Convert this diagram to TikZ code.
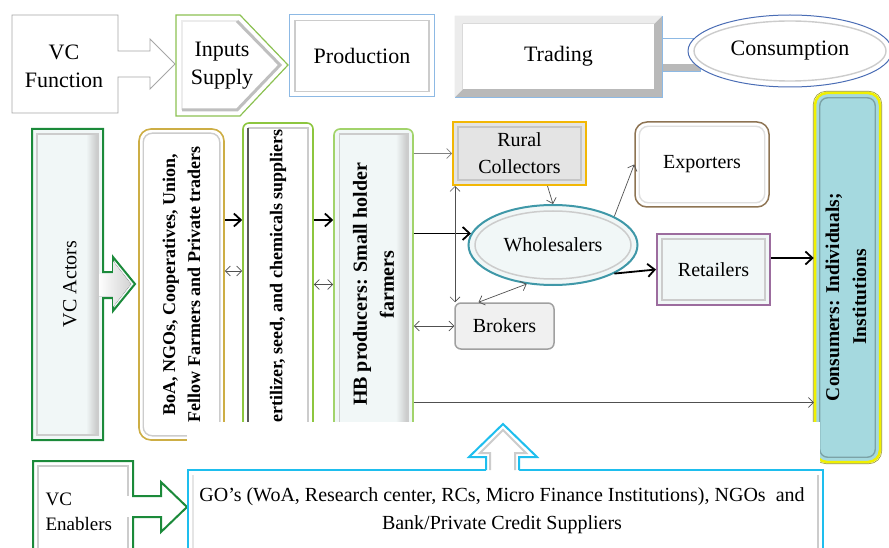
\documentclass[tikz,border=0pt]{standalone}
\usepackage{fontspec}
\setmainfont{Liberation Serif}
\usetikzlibrary{arrows.meta, shapes, shapes.geometric, calc, positioning}

\definecolor{funcGray}{HTML}{A6A6A6}
\definecolor{inputGreen}{HTML}{8CC152}
\definecolor{prodBlue}{HTML}{8DB9E4}
\definecolor{consBlue}{HTML}{4A6DB5}
\definecolor{actorGreen}{HTML}{1B8A3A}
\definecolor{boaGold}{HTML}{CDAE45}
\definecolor{fertGreen}{HTML}{8DC63F}
\definecolor{hbGreen}{HTML}{A2D36B}
\definecolor{paleFill}{HTML}{F1F7F7}
\definecolor{ruralGold}{HTML}{F2B705}
\definecolor{ruralFill}{HTML}{E4E4E4}
\definecolor{exportBrown}{HTML}{8E7453}
\definecolor{wholeTeal}{HTML}{3F98A8}
\definecolor{retailPurple}{HTML}{9C6C9E}
\definecolor{brokerGray}{HTML}{A0A0A0}
\definecolor{brokerFill}{HTML}{F0F0F0}
\definecolor{consumerFill}{HTML}{A5D9DF}
\definecolor{consumerYellow}{HTML}{F0F000}
\definecolor{consumerOlive}{HTML}{9A9A2A}
\definecolor{enablerCyan}{HTML}{1EBEEE}
\definecolor{lineGray}{HTML}{505050}

\tikzstyle{funcText} = [align=center, font=\fontsize{22}{28}\selectfont]
\tikzstyle{nodeText} = [align=center, font=\fontsize{20}{27}\selectfont]
\tikzstyle{vText} = [rotate=90, align=center, font=\bfseries\fontsize{18}{25}\selectfont]
\tikzstyle{colBox} = [rectangle, line width=1.6pt]
\tikzstyle{bevel} = [draw=gray!40, line width=1.4pt]
\tikzstyle{thinarrow} = [->, >={Straight Barb[length=5pt,width=10pt]}, draw=lineGray, line width=0.7pt]
\tikzstyle{thinboth} = [thinarrow, <->]
\tikzstyle{thickarrow} = [->, >={Straight Barb[length=7pt,width=13pt]}, draw=black, line width=1.8pt]

\begin{document}
\begin{tikzpicture}[x=1pt, y=-1pt, line join=miter]
\useasboundingbox (0,0) rectangle (889,548);

% --- value chain functions ---
\draw[funcGray, line width=0.9pt, fill=white] (12,15) -- (118,15) -- (118,51) -- (150,51) -- (150,39) -- (175,64) -- (150,89) -- (150,77) -- (118,77) -- (118,113) -- (12,113) -- cycle;
\node (vcFunction) [funcText] at (64,66) {VC\\Function};

\draw[inputGreen, line width=1.2pt, fill=white] (176,15) -- (240,15) -- (288,65) -- (240,116) -- (176,116) -- cycle;
\draw[bevel, draw=gray!15, line width=2.5pt] (182,110) -- (182,21) -- (237,21);
\draw[bevel, draw=gray!50, line width=3pt] (237,21) -- (280,65) -- (237,110) -- (182,110);
\node (inputsSupply) [funcText] at (222,66) {Inputs\\Supply};

\node (production) [funcText, draw=prodBlue, line width=1pt, fill=white, minimum width=145pt, minimum height=82pt] at (362,56) {Production};
\draw[bevel] ($(production.north west)+(6,6)$) rectangle ($(production.south east)+(-6,-6)$);

% trading box with its tab
\draw[prodBlue, line width=0.8pt, fill=white] (660,38) rectangle (700,71);
\fill[gray!55] (660,64) rectangle (700,71);
\node (trading) [draw=prodBlue, line width=0.8pt, fill=gray!55, minimum width=207pt, minimum height=81pt] at (558.5,56.5) {};
\fill[gray!15] (trading.north west) -- (trading.north east) -- ++(-8,8) -| ($(trading.south west)+(8,-8)$) -- (trading.south west) -- cycle;
\fill[white] ($(trading.north west)+(8,8)$) rectangle ($(trading.south east)+(-8,-8)$);
\node (tradingText) [funcText] at (trading) {Trading};

\node (consumption) [ellipse, draw=consBlue, line width=1pt, fill=white, minimum width=204pt, minimum height=72pt, funcText] at (790,51) {Consumption};
\draw[bevel] (consumption.center) ellipse [x radius=96, y radius=30];

% --- value chain actors ---
\draw[actorGreen, line width=2pt, fill=paleFill] (32,129) -- (103,129) -- (103,272) -- (113,272) -- (113,257) -- (135,284) -- (113,311) -- (113,298) -- (103,298) -- (103,440) -- (32,440) -- cycle;
\fill[left color=paleFill, right color=gray!45] (86,134) rectangle (98,435);
\fill[left color=white, right color=gray!35] (98,274) -- (113,274) -- (113,261) -- (131,284) -- (113,307) -- (113,296) -- (98,296) -- cycle;
\draw[bevel] (37,134) rectangle (98,435);
\node (vcActors) [rotate=90, font=\fontsize{20}{24}\selectfont] at (70,284) {VC Actors};

\node (boaGroup) [colBox, draw=boaGold, rounded corners=12pt, fill=white, minimum width=85pt, minimum height=311pt] at (181.5,284.5) {};
\draw[bevel, rounded corners=9pt] ($(boaGroup.north west)+(5,5)$) rectangle ($(boaGroup.south east)+(-5,-5)$);
\node (boaText) [vText] at (boaGroup) {BoA, NGOs, Cooperatives, Union,\\Fellow Farmers and Private traders};

\node (fertSuppliers) [colBox, draw=fertGreen, rounded corners=6pt, fill=white, minimum width=70pt, minimum height=317pt] at (278,281.5) {};
\draw[bevel] ($(fertSuppliers.north west)+(6,6)$) rectangle ($(fertSuppliers.south east)+(-6,-6)$);
\draw[gray!70!black, line width=1.5pt] ($(fertSuppliers.north west)+(6,6)$) -- ($(fertSuppliers.south west)+(6,-6)$);
\node (fertText) [vText] at (fertSuppliers) {Fertilizer, seed, and chemicals suppliers};

\node (hbFarmers) [colBox, draw=hbGreen, rounded corners=6pt, fill=paleFill, minimum width=79pt, minimum height=311pt] at (373.5,284.5) {};
\fill[left color=paleFill, right color=gray!45] ($(hbFarmers.north east)+(-18,6)$) rectangle ($(hbFarmers.south east)+(-6,-6)$);
\draw[bevel] ($(hbFarmers.north west)+(6,6)$) rectangle ($(hbFarmers.south east)+(-6,-6)$);
\node (hbText) [vText, font=\bfseries\fontsize{20}{27}\selectfont] at (hbFarmers) {HB producers: Small holder\\farmers};

\node (consumers) [rectangle, rounded corners=12pt, draw=consumerYellow, line width=2.5pt, fill=consumerFill, minimum width=65pt, minimum height=369pt] at (847.5,277.5) {};
\draw[consumerOlive, line width=0.6pt, rounded corners=13pt] ($(consumers.north west)+(-0.5,-0.5)$) rectangle ($(consumers.south east)+(0.5,0.5)$);
\draw[consumerFill!75!black, line width=1.4pt, rounded corners=8pt] ($(consumers.north west)+(6,6)$) rectangle ($(consumers.south east)+(-6,-6)$);
\node (consumersText) [vText, font=\bfseries\fontsize{19.5}{27}\selectfont] at (846,297) {Consumers: Individuals;\\Institutions};

% traders
\node (ruralCollectors) [nodeText, draw=ruralGold, line width=2pt, fill=ruralFill, minimum width=133pt, minimum height=63pt] at (519.5,153.5) {Rural\\Collectors};
\draw[gray!45, line width=1.2pt] ($(ruralCollectors.north west)+(6,6)$) rectangle ($(ruralCollectors.south east)+(-6,-6)$);

\node (exporters) [nodeText, draw=exportBrown, line width=1.5pt, rounded corners=12pt, fill=white, minimum width=134pt, minimum height=85pt] at (702,164.5) {Exporters};
\draw[gray!25, line width=1.4pt, rounded corners=9pt] ($(exporters.north west)+(5,5)$) rectangle ($(exporters.south east)+(-5,-5)$);

\node (wholesalers) [nodeText, ellipse, draw=wholeTeal, line width=2pt, fill=paleFill, minimum width=169pt, minimum height=80pt] at (553,245) {Wholesalers};
\draw[gray!40, line width=1.5pt] (wholesalers.center) ellipse [x radius=78, y radius=34];

\node (retailers) [nodeText, draw=retailPurple, line width=2pt, fill=paleFill, minimum width=113pt, minimum height=71pt] at (713.5,269.5) {Retailers};
\draw[bevel] ($(retailers.north west)+(6,6)$) rectangle ($(retailers.south east)+(-6,-6)$);

\node (brokers) [nodeText, draw=brokerGray, line width=1.5pt, rounded corners=6pt, fill=brokerFill, minimum width=99pt, minimum height=46pt] at (504.5,326) {Brokers};

% --- flows ---
\draw [thickarrow] ([yshift=64.5pt]boaGroup.east) -- ([yshift=61.5pt]fertSuppliers.west);
\draw [thinboth] ([yshift=13.5pt]boaGroup.east) -- ([yshift=10.5pt]fertSuppliers.west);
\draw [thickarrow] ([yshift=61.5pt]fertSuppliers.east) -- ([yshift=64.5pt]hbFarmers.west);
\draw [thinboth] (fertSuppliers.east |- hbFarmers.west) -- (hbFarmers.west);

\draw [thinarrow, draw=gray] (hbFarmers.east |- ruralCollectors.west) -- (ruralCollectors.west);
\draw [thickarrow] (hbFarmers.east |- wholesalers.172) -- (wholesalers.172);
\draw [thinboth] (hbFarmers.east |- brokers.west) -- (brokers.west);
\coordinate (lowLine) at ($(hbFarmers.east)+(0,118)$);
\draw [thinarrow] (lowLine) -- (lowLine -| consumers.west);

\coordinate (collectorFoot) at ([xshift=3pt]ruralCollectors.south west);
\draw [thinboth] (collectorFoot) -- (collectorFoot |- brokers.north);
\draw [thinarrow] ([xshift=28pt]ruralCollectors.south) -- (wholesalers.north);
\draw [thinarrow] (wholesalers.25) -- (exporters.west);
\draw [thinboth] (wholesalers.236) -- ([xshift=-26pt]brokers.north);
\draw [thickarrow] (wholesalers.335) -- (retailers.west);
\coordinate (retailOut) at ([yshift=11.5pt]retailers.east);
\draw [thickarrow] (retailOut) -- (retailOut -| consumers.west);

% --- value chain enablers ---
\fill[white] (187,422) rectangle (820,548);

\draw[actorGreen, line width=2pt, fill=white] (33,560) -- (33,461) -- (133,461) -- (133,496) -- (161,496) -- (161,482) -- (187,507) -- (161,532) -- (161,517) -- (133,517) -- (133,560);
\draw[bevel] (38,548) -- (38,466) -- (128,466) -- (128,496);
\draw[bevel] (128,517) -- (128,548);
\node (vcEnablers) [anchor=west, align=left, font=\fontsize{19}{25}\selectfont] at (42,512) {VC\\Enablers};

\node (goBox) [draw=enablerCyan, line width=2pt, fill=white, minimum width=635pt, minimum height=90pt] at (505.5,515) {};
\draw[bevel, line width=2.5pt] ($(goBox.north east)+(-6,6)$) -- ($(goBox.south east)+(-6,0)$);
\draw[bevel, draw=gray!20] ($(goBox.north west)+(6,6)$) -- ($(goBox.south west)+(6,0)$);
\node (goText) [align=center, font=\fontsize{20}{28}\selectfont] at (502,511) {GO’s (WoA, Research center, RCs, Micro Finance Institutions), NGOs~ and\\Bank/Private Credit Suppliers};

\fill[white] (486,472) -- (486,457) -- (469,457) -- (503,424) -- (537,457) -- (519,457) -- (519,472) -- cycle;
\draw[bevel, line width=2pt] (490,470) -- (490,453) -- (480,453) -- (503,430) -- (526,453) -- (515,453) -- (515,470);
\draw[enablerCyan, line width=2pt] (486,470) -- (486,457) -- (469,457) -- (503,424) -- (537,457) -- (519,457) -- (519,470);
\end{tikzpicture}
\end{document}
